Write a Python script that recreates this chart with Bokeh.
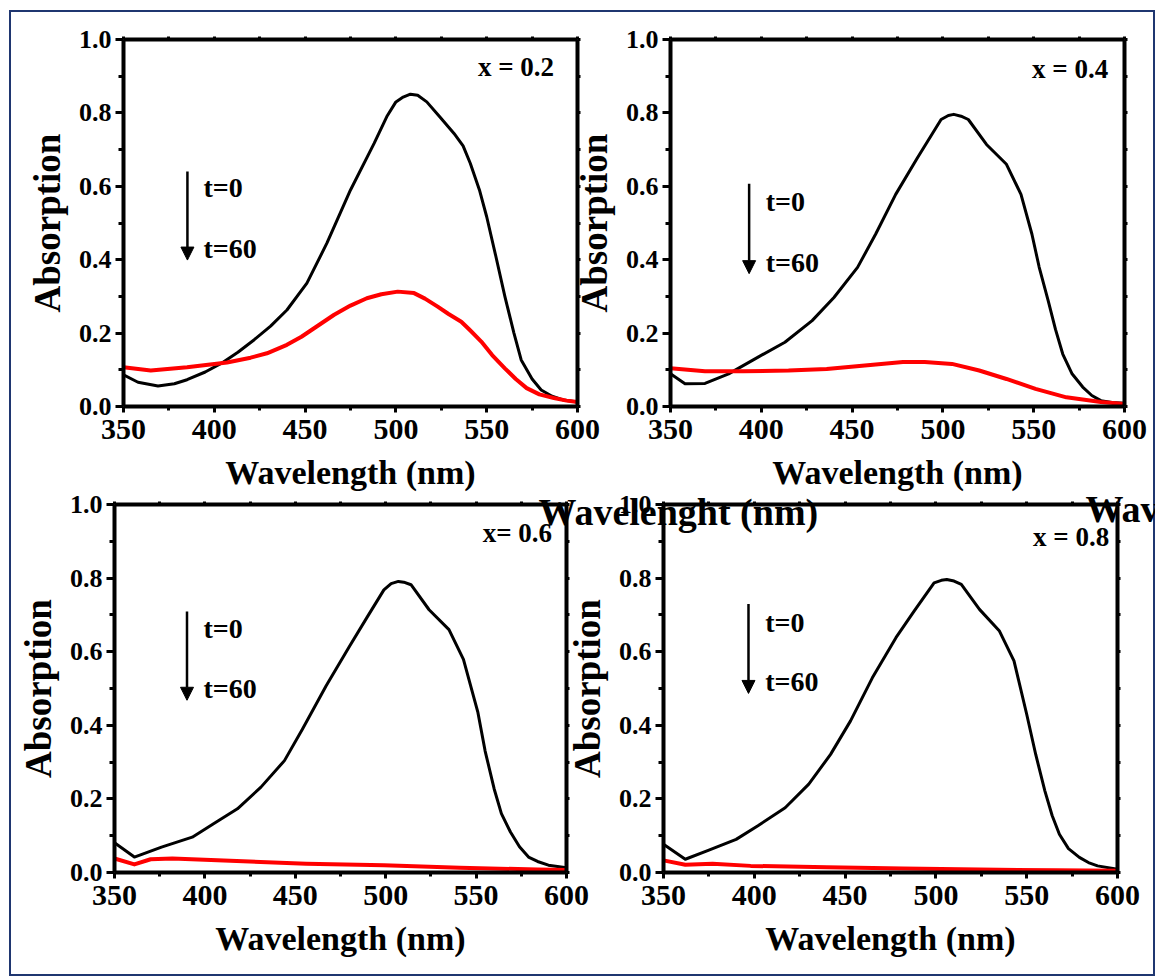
from bokeh.plotting import figure
from bokeh.layouts import row, column
from bokeh.models import LinearAxis, FixedTicker, Label, Arrow, NormalHead, Range1d, PrintfTickFormatter
from bokeh.embed import file_html
from bokeh.resources import INLINE

FONT = "'Liberation Serif', 'Times New Roman', serif"

# ---------------- data ----------------
x_ticks = [350, 400, 450, 500, 550, 600]
x_minor = [375, 425, 475, 525, 575]
y_ticks = [0.0, 0.2, 0.4, 0.6, 0.8, 1.0]
y_minor = [0.1, 0.3, 0.5, 0.7, 0.9]

p1_wl_t0 = [350, 358, 369, 378, 385, 395, 404, 413, 422, 431, 440, 451, 462, 475, 488, 495, 500, 504, 508, 512,
            517, 524, 532, 537, 541, 546, 550, 555, 560, 565, 569, 575, 580, 586, 592, 600]
p1_abs_t0 = [0.086, 0.066, 0.056, 0.062, 0.073, 0.094, 0.118, 0.148, 0.182, 0.219, 0.263, 0.336, 0.445, 0.590,
             0.717, 0.790, 0.830, 0.843, 0.851, 0.848, 0.830, 0.790, 0.744, 0.710, 0.662, 0.590, 0.517, 0.410,
             0.300, 0.200, 0.127, 0.075, 0.045, 0.028, 0.018, 0.012]
p1_wl_t60 = [350, 365, 385, 407, 420, 429, 440, 448, 457, 466, 475, 484, 492, 501, 510, 516, 523, 529, 536, 541,
             547, 553, 560, 566, 572, 579, 587, 594, 600]
p1_abs_t60 = [0.107, 0.098, 0.107, 0.120, 0.133, 0.145, 0.168, 0.190, 0.220, 0.250, 0.275, 0.295, 0.306, 0.313,
              0.309, 0.294, 0.272, 0.252, 0.231, 0.207, 0.177, 0.140, 0.104, 0.075, 0.050, 0.033, 0.023, 0.016,
              0.012]

p2_wl_t0 = [350, 358, 369, 382, 398, 413, 428, 440, 453, 463, 474, 486, 499, 503, 506, 510, 514, 524, 535, 543,
            549, 553, 558, 562, 566, 571, 577, 582, 587, 593, 600]
p2_abs_t0 = [0.089, 0.062, 0.063, 0.089, 0.134, 0.175, 0.234, 0.297, 0.379, 0.470, 0.578, 0.678, 0.782, 0.793,
             0.796, 0.791, 0.782, 0.714, 0.660, 0.578, 0.470, 0.380, 0.288, 0.210, 0.143, 0.090, 0.053, 0.030,
             0.016, 0.011, 0.009]
p2_wl_t60 = [350, 369, 390, 415, 436, 457, 478, 490, 505, 520, 535, 551, 568, 587, 600]
p2_abs_t60 = [0.104, 0.096, 0.096, 0.098, 0.102, 0.112, 0.121, 0.121, 0.116, 0.098, 0.075, 0.048, 0.025, 0.012,
              0.007]

p3_wl_t0 = [350, 361, 376, 393, 405, 418, 431, 444, 454, 467, 480, 490, 499, 503, 507, 510, 514, 524, 535, 543,
            551, 555, 560, 564, 569, 574, 579, 584, 590, 600]
p3_abs_t0 = [0.081, 0.042, 0.069, 0.096, 0.133, 0.173, 0.232, 0.304, 0.390, 0.507, 0.615, 0.696, 0.768, 0.785,
             0.791, 0.789, 0.782, 0.714, 0.660, 0.579, 0.435, 0.330, 0.227, 0.160, 0.110, 0.070, 0.042, 0.030,
             0.020, 0.013]
p3_wl_t60 = [350, 361, 370, 382, 414, 456, 499, 541, 584, 600]
p3_abs_t60 = [0.038, 0.022, 0.036, 0.038, 0.032, 0.024, 0.020, 0.013, 0.008, 0.007]

p4_wl_t0 = [350, 362, 375, 390, 402, 417, 430, 442, 453, 465, 478, 488, 499, 503, 506, 510, 514, 524, 535, 543,
            550, 555, 560, 564, 568, 573, 579, 584, 589, 600]
p4_abs_t0 = [0.077, 0.036, 0.061, 0.090, 0.127, 0.176, 0.240, 0.321, 0.412, 0.529, 0.638, 0.710, 0.787, 0.794,
             0.796, 0.792, 0.783, 0.715, 0.656, 0.575, 0.430, 0.320, 0.222, 0.155, 0.104, 0.065, 0.041, 0.027,
             0.018, 0.009]
p4_wl_t60 = [350, 362, 377, 398, 440, 482, 524, 566, 600]
p4_abs_t60 = [0.033, 0.021, 0.024, 0.018, 0.014, 0.011, 0.008, 0.006, 0.005]

panel_titles = ["x = 0.2", "x = 0.4", "x= 0.6", "x = 0.8"]
x_title = "Wavelength (nm)"
y_title = "Absorption"
ghost_title = "Wavelenght (nm)"
ghost_cut = "Wav"


def style_axis(ax, ticks, minor, tick_out, minor_out, label_size, show_labels=True):
    ax.ticker = FixedTicker(ticks=ticks, minor_ticks=minor)
    ax.axis_line_width = 4
    ax.axis_line_color = "black"
    ax.major_tick_line_width = 3
    ax.minor_tick_line_width = 3
    ax.major_tick_line_color = "black"
    ax.minor_tick_line_color = "black"
    ax.major_tick_in = 0
    ax.minor_tick_in = 0
    ax.major_tick_out = tick_out
    ax.minor_tick_out = minor_out
    ax.major_label_text_font = FONT
    ax.major_label_text_font_style = "bold"
    ax.major_label_text_font_size = label_size
    ax.major_label_text_color = "black" if show_labels else None
    ax.axis_label_text_font = FONT
    ax.axis_label_text_font_style = "bold"
    ax.axis_label_text_color = "black"


def add_text(p, x, y, text, size, align="left"):
    p.add_layout(Label(x=x, y=y, text=text, text_align=align, text_baseline="alphabetic",
                       text_font=FONT, text_font_style="bold", text_font_size=size, text_color="black"))


def make_panel(width, height, bl, br, bt, bb, wl0, a0, wl60, a60, title, title_pos, t_pos, arrow_pos):
    p = figure(width=width, height=height, x_range=Range1d(350, 600), y_range=Range1d(0, 1),
               output_backend="svg", toolbar_location=None,
               min_border_left=bl, min_border_right=br, min_border_top=bt, min_border_bottom=bb)
    p.background_fill_alpha = 0
    p.border_fill_alpha = 0
    p.outline_line_color = None
    p.grid.visible = False

    xa = p.xaxis[0]
    ya = p.yaxis[0]
    xa.axis_label = x_title
    ya.axis_label = y_title
    style_axis(xa, x_ticks, x_minor, 6, 4, "30px")
    style_axis(ya, y_ticks, y_minor, 8, 5, "26px")
    xa.major_label_standoff = 7
    ya.major_label_standoff = 4
    xa.axis_label_text_font_size = "34px"
    ya.axis_label_text_font_size = "37px"
    xa.axis_label_standoff = 12
    ya.axis_label_standoff = 8
    xa.formatter = PrintfTickFormatter(format="%d")
    ya.formatter = PrintfTickFormatter(format="%.1f")

    top = LinearAxis()
    right = LinearAxis()
    p.add_layout(top, "above")
    p.add_layout(right, "right")
    style_axis(top, x_ticks, x_minor, 3, 3, "1px", show_labels=False)
    style_axis(right, y_ticks, y_minor, 3, 3, "1px", show_labels=False)
    top.major_label_standoff = 0
    right.major_label_standoff = 0

    p.line(wl0, a0, line_color="black", line_width=3, line_join="round")
    p.line(wl60, a60, line_color="#ff0000", line_width=4, line_join="round")

    add_text(p, title_pos[0], title_pos[1], title, "27px", align="right")
    add_text(p, t_pos[0], t_pos[1], "t=0", "28px")
    add_text(p, t_pos[0], t_pos[2], "t=60", "28px")
    p.add_layout(Arrow(end=NormalHead(size=13, fill_color="black", line_color="black", line_width=1),
                       x_start=arrow_pos[0], y_start=arrow_pos[1], x_end=arrow_pos[0], y_end=arrow_pos[2],
                       line_color="black", line_width=2.5))
    return p


p1 = make_panel(591, 505, 114, 23, 29, 108, p1_wl_t0, p1_abs_t0, p1_wl_t60, p1_abs_t60,
                panel_titles[0], (587.1, 0.9245), (394.0, 0.5965, 0.4305), (385.2, 0.640, 0.399))
p2 = make_panel(595, 505, 110, 31, 28, 109, p2_wl_t0, p2_abs_t0, p2_wl_t60, p2_abs_t60,
                panel_titles[1], (591.0, 0.9205), (402.4, 0.5575, 0.3925), (393.3, 0.607, 0.362))
p3 = make_panel(591, 496, 105, 34, 24, 102, p3_wl_t0, p3_abs_t0, p3_wl_t60, p3_abs_t60,
                panel_titles[2], (592.0, 0.9225), (399.2, 0.662, 0.4995), (390.1, 0.7095, 0.468))
p4 = make_panel(625, 496, 133, 38, 23, 104, p4_wl_t0, p4_abs_t0, p4_wl_t60, p4_abs_t60,
                panel_titles[3], (595.4, 0.9125), (406.0, 0.6805, 0.5192), (396.8, 0.7296, 0.4866))

p2.margin = (0, 0, 0, -40)
p4.margin = (0, 0, 0, -70)

# transparent overlay carrying the stray, overprinted titles of the original figure
g = figure(width=1146, height=530, x_range=Range1d(0, 1146), y_range=Range1d(0, 530),
           x_axis_type=None, y_axis_type=None, min_border=0, output_backend="svg",
           toolbar_location=None)
g.background_fill_alpha = 0
g.border_fill_alpha = 0
g.outline_line_color = None
g.grid.visible = False
add_text(g, 529, 29, ghost_title, "38px")
add_text(g, 1076, 32, ghost_cut, "38px")
g.margin = (0, 0, -530, 0)

top_row = row(p1, p2)
bottom_row = row(p3, p4)
bottom_row.margin = (-35, 0, 0, 0)

layout = column(g, top_row, bottom_row, margin=(10, 2, 3, 9),
                styles={"outline": "2px solid #1f3670", "outline-offset": "-2px"})

open("out.html", "w").write(file_html(layout, INLINE))
